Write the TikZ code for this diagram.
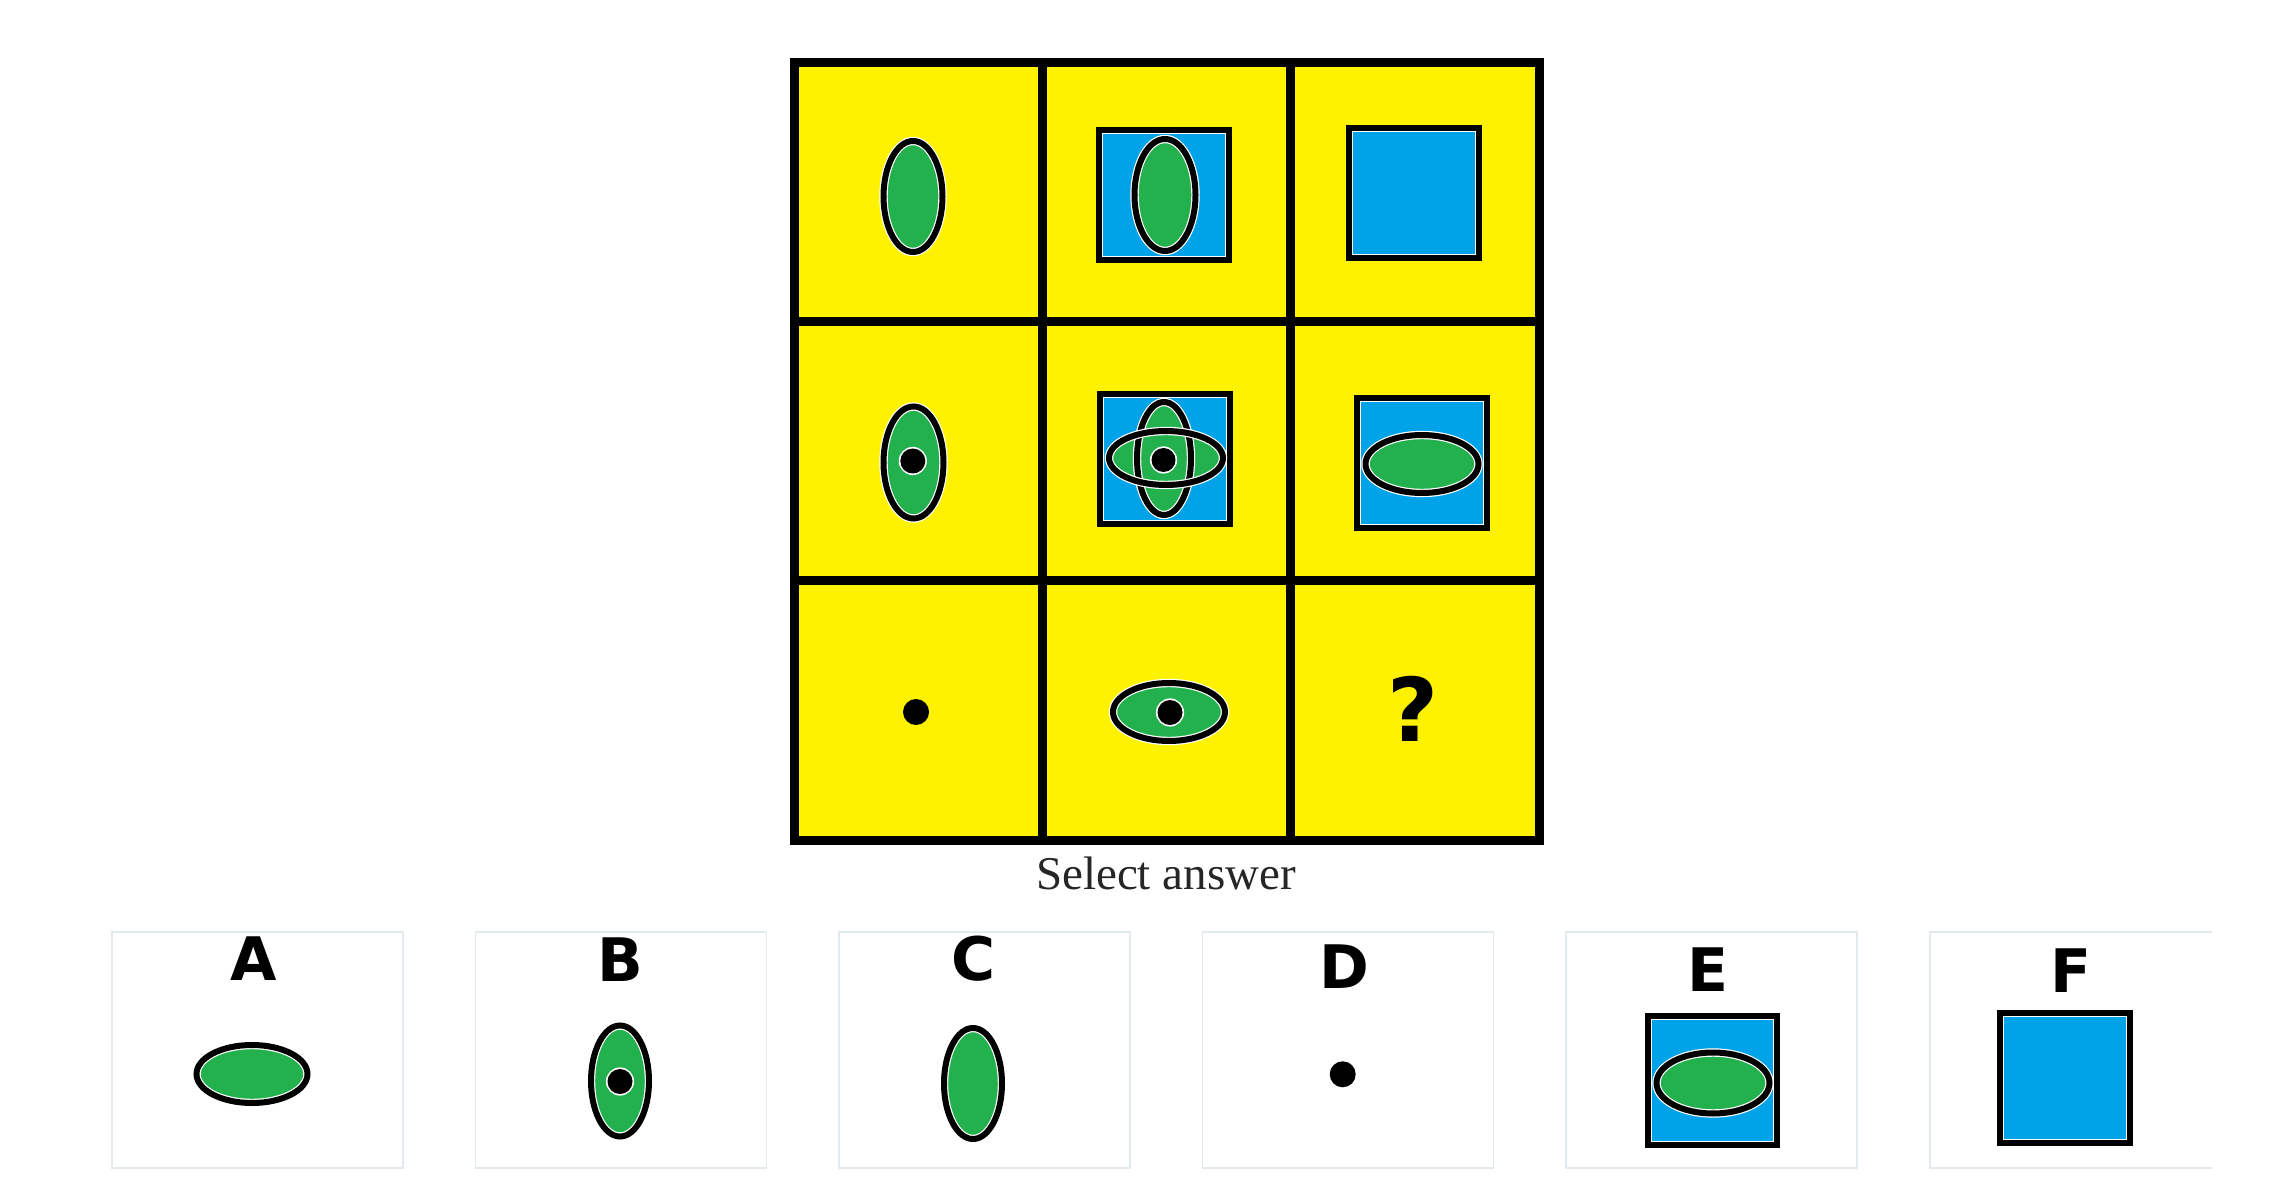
\documentclass[tikz,border=0pt]{standalone}
\usepackage{fontspec}
\setmainfont{Liberation Serif}
\newfontfamily\labfont{DejaVu Sans}
\definecolor{ylw}{HTML}{FFF200}
\definecolor{grn}{HTML}{22B14C}
\definecolor{blu}{HTML}{00A2E8}
\definecolor{boxline}{HTML}{E2EAEE}
\definecolor{txtgray}{HTML}{262626}
\newcommand\myellfill[4]{\fill[grn] (#1,#2) ellipse [x radius=#3, y radius=#4];}
\newcommand\myellline[4]{%
  \draw[white, line width=4.2pt] (#1,#2) ellipse [x radius=#3, y radius=#4];
  \draw[black, line width=3pt] (#1,#2) ellipse [x radius=#3, y radius=#4];}
\newcommand\myell[4]{\myellfill{#1}{#2}{#3}{#4}\myellline{#1}{#2}{#3}{#4}}
\newcommand\myringdot[3]{%
  \fill[white] (#1,#2) circle [radius=#3+1.6];
  \fill[black] (#1,#2) circle [radius=#3];}
\newcommand\myplaindot[3]{\fill[black] (#1,#2) circle [radius=#3];}
\newcommand\mysq[3]{%
  \fill[blu] ({#1-#3},{#2-#3}) rectangle ({#1+#3},{#2+#3});
  \draw[black, line width=3pt] ({#1-#3},{#2-#3}) rectangle ({#1+#3},{#2+#3});
  \draw[white, line width=0.5pt] ({#1-#3+3.5},{#2-#3+3.5}) rectangle ({#1+#3-3.5},{#2+#3-3.5});}
\begin{document}
\begin{tikzpicture}[x=0.5pt,y=-0.5pt,
  gridline/.style={line width=4.5pt, black},
  optbox/.style={draw=boxline, line width=0.8pt},
  optlabel/.style={font=\labfont\bfseries\fontsize{30}{36}\selectfont, inner sep=0pt, anchor=center},
  qmark/.style={font=\labfont\bfseries\fontsize{44}{50}\selectfont, inner sep=0pt, anchor=center},
  caption/.style={font=\fontsize{23.5}{28}\selectfont, text=txtgray, inner sep=0pt, anchor=base}]
\useasboundingbox[fill=white] (0,0) rectangle (2270,1197);

% ---------- matrix ----------
\fill[ylw] (794.5,62.5) rectangle (1539,840.5);

% row 1
\myell{913}{196.5}{29.5}{55.5}
\mysq{1164}{195.5}{65}
\myell{1165}{195}{30.5}{56}
\mysq{1414}{193.5}{65}

% row 2
\myell{913.5}{462.5}{30}{56}
\myringdot{912.8}{461}{12.5}
\mysq{1165}{459}{65}
\myellfill{1164}{458.5}{27}{56.5}
\myellfill{1166}{458}{57}{27}
\myellline{1164}{458.5}{27}{56.5}
\myellline{1166}{458}{57}{27}
\myringdot{1163.5}{460}{12}
\mysq{1421.5}{463}{65}
\myell{1422}{464}{56.5}{29}

% row 3
\myplaindot{916}{712}{13}
\myell{1169}{712}{56}{29}
\myringdot{1170}{712.5}{12.5}
\node[qmark] (q) at (1413,708.7) {?};

% grid lines
\draw[gridline] (794.5,62.5) rectangle (1539,840.5);
\draw[gridline] (1042,62.5) -- (1042,840.5);
\draw[gridline] (1290.5,62.5) -- (1290.5,840.5);
\draw[gridline] (794.5,321.7) -- (1539,321.7);
\draw[gridline] (794.5,581) -- (1539,581);

\node[caption] (sel) at (1166,889.3) {Select answer};

% ---------- options ----------
\draw[optbox] (111.7,931.7) rectangle ++(291,236.5);
\draw[optbox] (475.3,931.7) rectangle ++(291,236.5);
\draw[optbox] (838.9,931.7) rectangle ++(291,236.5);
\draw[optbox] (1202.5,931.7) rectangle ++(291,236.5);
\draw[optbox] (1566.1,931.7) rectangle ++(291,236.5);
\draw[optbox] (2212,931.7) -- (1929.7,931.7) -- (1929.7,1168.2) -- (2212,1168.2);

\node[optlabel] (lA) at (254,958.7) {A};
\node[optlabel] (lB) at (620,959.5) {B};
\node[optlabel] (lC) at (974,958.4) {C};
\node[optlabel] (lD) at (1344.7,967) {D};
\node[optlabel] (lE) at (1707.7,970) {E};
\node[optlabel] (lF) at (2071,970.5) {F};

% A
\myell{252}{1074}{55.5}{29}
% B
\myell{620}{1081}{29}{55.5}
\myringdot{620}{1081.5}{12.5}
% C
\myell{973}{1083.5}{29}{55.5}
% D
\myplaindot{1342.7}{1074.3}{13}
% E
\mysq{1712.7}{1080}{64.5}
\myell{1713}{1083}{56.5}{30.5}
% F
\mysq{2064.7}{1078}{65}
\end{tikzpicture}
\end{document}
